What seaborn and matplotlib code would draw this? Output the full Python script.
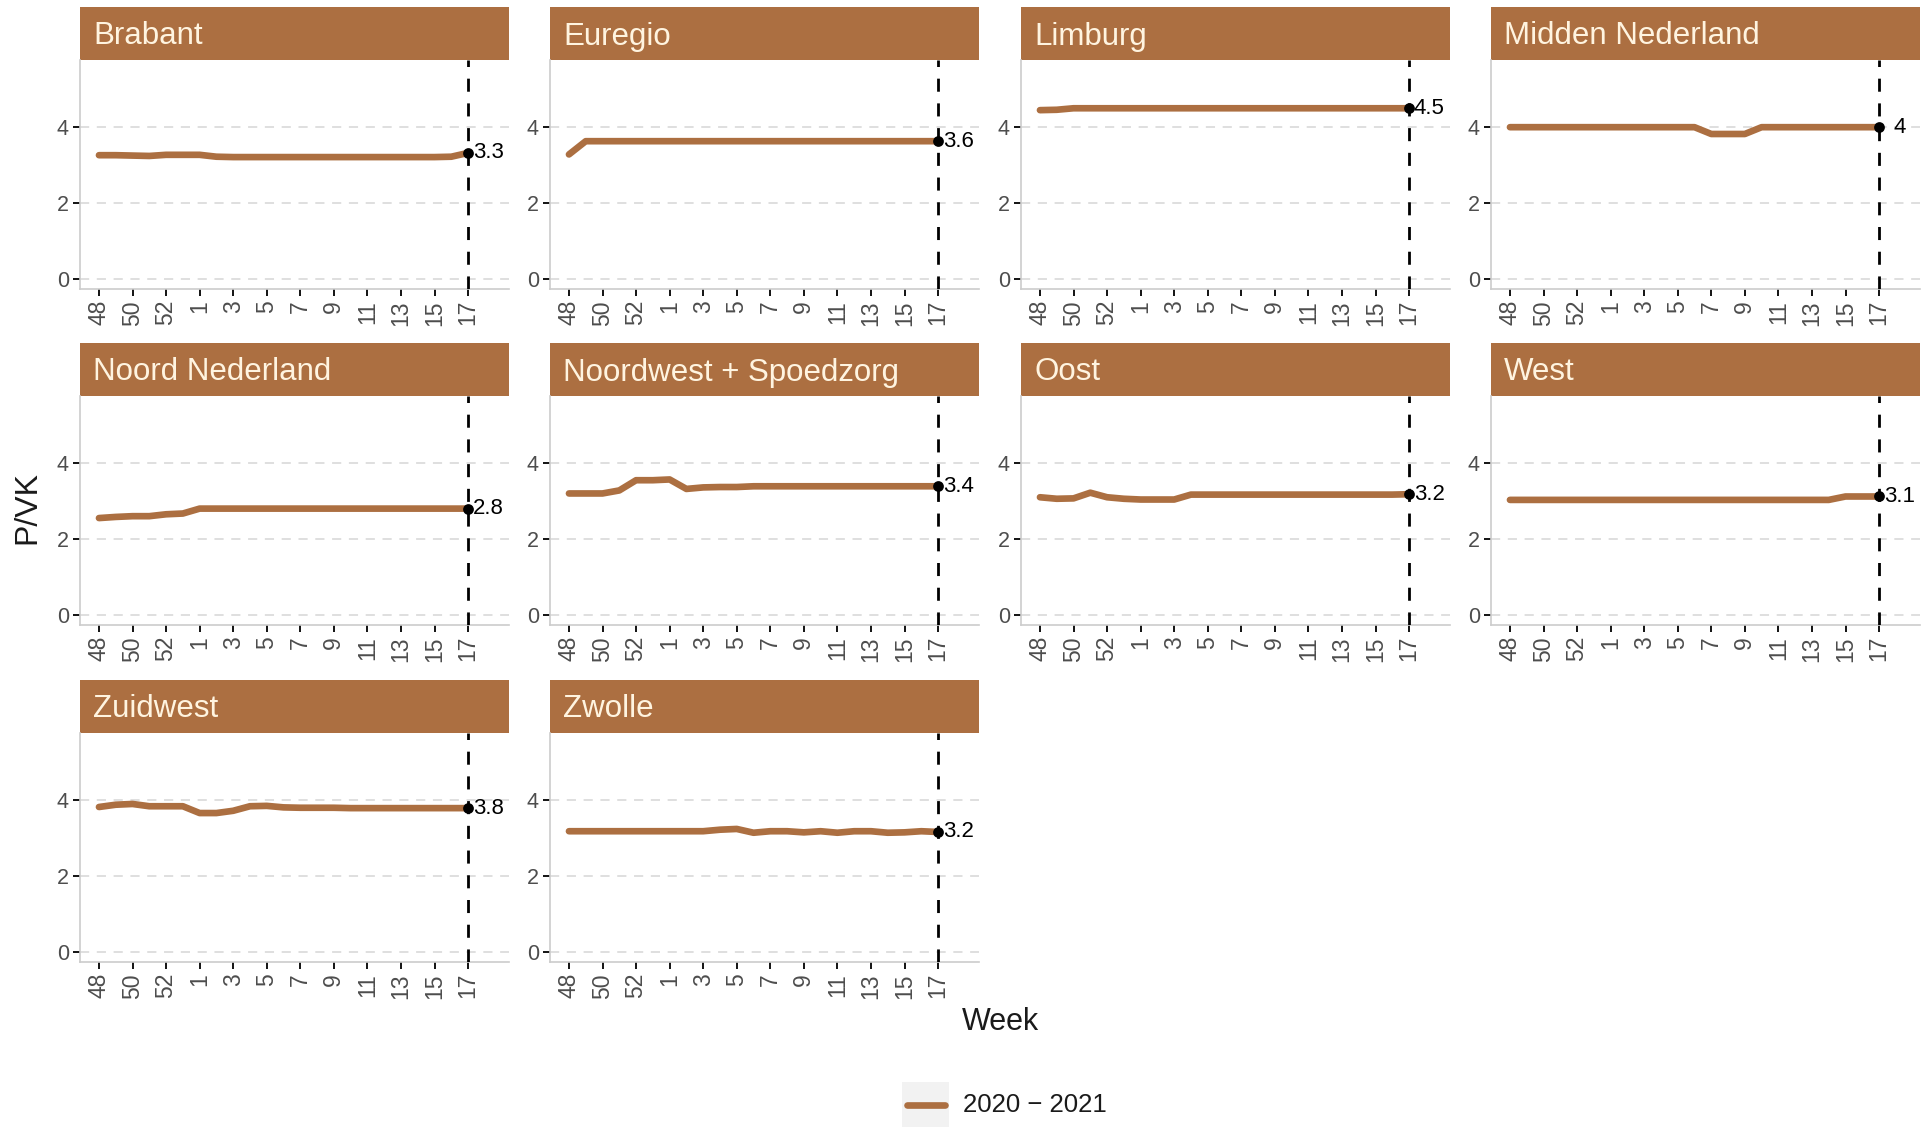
import matplotlib
matplotlib.use("Agg")
import matplotlib.pyplot as plt
from matplotlib.patches import Rectangle
from matplotlib.lines import Line2D
import seaborn as sns
import pandas as pd

# ---- data -----------------------------------------------------------------
weeks = ["48", "49", "50", "51", "52", "53", "1", "2", "3", "4", "5", "6",
         "7", "8", "9", "10", "11", "12", "13", "14", "15", "16", "17"]

regions = ["Brabant", "Euregio", "Limburg", "Midden Nederland",
           "Noord Nederland", "Noordwest + Spoedzorg", "Oost", "West",
           "Zuidwest", "Zwolle"]

brabant = [3.26, 3.26, 3.25, 3.24, 3.27, 3.27, 3.27, 3.22, 3.21, 3.21, 3.21, 3.21,
           3.21, 3.21, 3.21, 3.21, 3.21, 3.21, 3.21, 3.21, 3.21, 3.22, 3.32]
euregio = [3.28, 3.63, 3.63, 3.63, 3.63, 3.63, 3.63, 3.63, 3.63, 3.63, 3.63, 3.63,
           3.63, 3.63, 3.63, 3.63, 3.63, 3.63, 3.63, 3.63, 3.63, 3.63, 3.63]
limburg = [4.45, 4.46, 4.50, 4.50, 4.50, 4.50, 4.50, 4.50, 4.50, 4.50, 4.50, 4.50,
           4.50, 4.50, 4.50, 4.50, 4.50, 4.50, 4.50, 4.50, 4.50, 4.50, 4.50]
midden_nl = [4.00, 4.00, 4.00, 4.00, 4.00, 4.00, 4.00, 4.00, 4.00, 4.00, 4.00, 4.00,
             3.82, 3.82, 3.82, 4.00, 4.00, 4.00, 4.00, 4.00, 4.00, 4.00, 4.00]
noord_nl = [2.55, 2.58, 2.60, 2.60, 2.65, 2.67, 2.80, 2.80, 2.80, 2.80, 2.80, 2.80,
            2.80, 2.80, 2.80, 2.80, 2.80, 2.80, 2.80, 2.80, 2.80, 2.80, 2.80]
noordwest = [3.20, 3.20, 3.20, 3.28, 3.55, 3.55, 3.57, 3.32, 3.36, 3.37, 3.37, 3.39,
             3.39, 3.39, 3.39, 3.39, 3.39, 3.39, 3.39, 3.39, 3.39, 3.39, 3.39]
oost = [3.10, 3.06, 3.07, 3.22, 3.10, 3.06, 3.04, 3.04, 3.04, 3.17, 3.17, 3.17,
        3.17, 3.17, 3.17, 3.17, 3.17, 3.17, 3.17, 3.17, 3.17, 3.17, 3.18]
west = [3.03, 3.03, 3.03, 3.03, 3.03, 3.03, 3.03, 3.03, 3.03, 3.03, 3.03, 3.03,
        3.03, 3.03, 3.03, 3.03, 3.03, 3.03, 3.03, 3.03, 3.12, 3.12, 3.12]
zuidwest = [3.82, 3.88, 3.90, 3.84, 3.84, 3.84, 3.66, 3.66, 3.72, 3.84, 3.85, 3.81,
            3.80, 3.80, 3.80, 3.79, 3.79, 3.79, 3.79, 3.79, 3.79, 3.79, 3.79]
zwolle = [3.18, 3.18, 3.18, 3.18, 3.18, 3.18, 3.18, 3.18, 3.18, 3.22, 3.24, 3.14,
          3.18, 3.18, 3.15, 3.18, 3.14, 3.18, 3.18, 3.14, 3.15, 3.18, 3.16]

series = [brabant, euregio, limburg, midden_nl, noord_nl, noordwest,
          oost, west, zuidwest, zwolle]
season = "2020 \u2212 2021"

rows = []
for reg, vals in zip(regions, series):
    for i, (wk, v) in enumerate(zip(weeks, vals)):
        rows.append({"regio": reg, "pos": i, "week": wk, "pvk": v})
df = pd.DataFrame(rows)

# ---- style ----------------------------------------------------------------
sns.set_theme(style="white")
plt.rcParams["font.family"] = ["Liberation Sans", "DejaVu Sans"]

BROWN = "#AC6F41"
STRIP_TXT = "#FFF4E0"
TICK_TXT = "#4D4D4D"
GRID = "#D6D6D6"
SPINE = "#CCCCCC"
LINE_W = 4.8

W, H = 1929, 1127
fig = plt.figure(figsize=(W / 100, H / 100), dpi=100)

col_left = [80, 550, 1021, 1491]
row_top = [60, 396, 733]
pw, ph = 429, 229
strip_h = 53

tick_pos = list(range(0, len(weeks), 2))
tick_lab = [weeks[i] for i in tick_pos]

for k, reg in enumerate(regions):
    r, c = divmod(k, 4)
    left, top = col_left[c], row_top[r]
    ax = fig.add_axes([left / W, 1 - (top + ph) / H, pw / W, ph / H])
    sub = df[df["regio"] == reg]

    # horizontal dashed grid
    for gy in (0, 2, 4):
        ax.axhline(gy, color=GRID, lw=1.1, ls=(0, (6, 5)), zorder=0)

    sns.lineplot(data=sub, x="pos", y="pvk", color=BROWN, lw=LINE_W,
                 ax=ax, legend=False, zorder=2)

    last = sub.iloc[[-1]]
    x_last = last["pos"].iloc[0]
    y_last = last["pvk"].iloc[0]
    ax.axvline(x_last, color="black", lw=2.0, ls=(0, (4.7, 4.2)), zorder=3)
    sns.scatterplot(data=last, x="pos", y="pvk", color="black", s=60,
                    edgecolor="black", linewidth=0, ax=ax, legend=False,
                    zorder=4)
    v = round(float(y_last), 1)
    ax.annotate(f"{v:g}", (x_last, y_last),
                xytext=(14.5, 0), textcoords="offset points", ha="center",
                va="center", fontsize=16, color="black", zorder=5)

    ax.set_xlim(-1.13, 24.44)
    ax.set_ylim(-0.275, 5.775)
    ax.set_xticks(tick_pos)
    ax.set_xticklabels(tick_lab, rotation=90)
    ax.set_yticks([0, 2, 4])
    ax.set_yticklabels(["0", "2", "4"])
    ax.tick_params(axis="both", which="major", length=5, width=1.3,
                   color="black", labelcolor=TICK_TXT,
                   direction="out", pad=3, bottom=True, left=True)
    ax.tick_params(axis="x", labelsize=16.5)
    ax.tick_params(axis="y", labelsize=15.5)
    ax.set_xlabel("")
    ax.set_ylabel("")
    for s in ("top", "right"):
        ax.spines[s].set_visible(False)
    for s in ("left", "bottom"):
        ax.spines[s].set_color(SPINE)
        ax.spines[s].set_linewidth(1.2)
    ax.set_facecolor("white")

    # facet strip
    ax.add_patch(Rectangle((0, 1), 1, strip_h / ph, transform=ax.transAxes,
                           facecolor=BROWN, edgecolor="none", clip_on=False,
                           zorder=1))
    ax.text(13 / pw, 1 + (strip_h / 2 - 3) / ph, reg, transform=ax.transAxes,
            ha="left", va="center", fontsize=22.5, color=STRIP_TXT)

# axis titles
fig.text(1000 / W, 1 - 1022 / H, "Week", ha="center", va="center",
         fontsize=22, color="#1A1A1A")
fig.text(27 / W, 1 - 508 / H, "P/VK", ha="center", va="center",
         rotation=90, fontsize=23, color="#1A1A1A")

# legend
fig.patches.append(Rectangle((902 / W, 1 - 1127 / H), 47 / W, 45 / H,
                             transform=fig.transFigure, facecolor="#F2F2F2",
                             edgecolor="none"))
fig.lines.append(Line2D([907 / W, 945 / W], [1 - 1105 / H, 1 - 1105 / H],
                        transform=fig.transFigure, color=BROWN, lw=LINE_W))
fig.text(963 / W, 1 - 1105 / H, season, ha="left", va="center",
         fontsize=18.5, color="#1A1A1A")

fig.savefig("out.png", dpi=100, facecolor="white")
